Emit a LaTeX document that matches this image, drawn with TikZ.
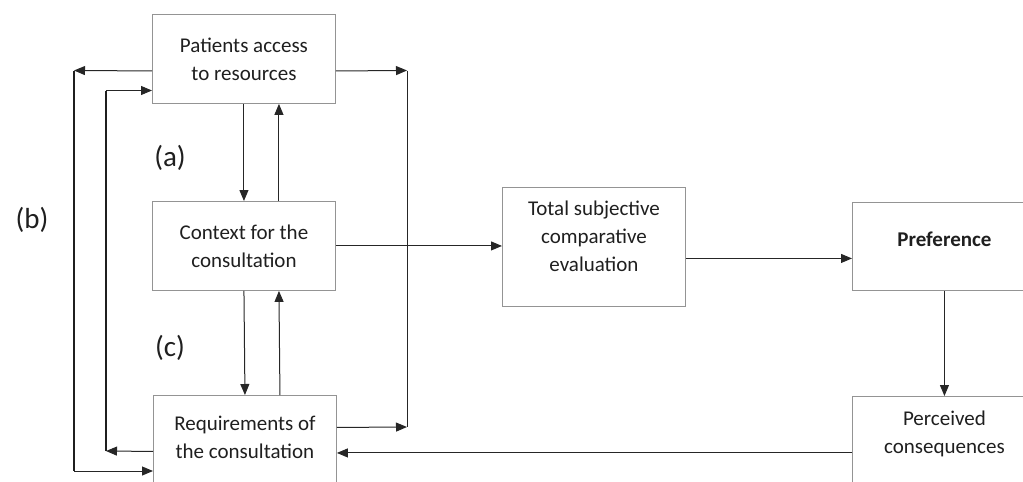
\documentclass[tikz,border=0pt]{standalone}
\usepackage{fontspec}
\setmainfont{Carlito}
\usetikzlibrary{arrows.meta}
\newcommand{\bw}{183pt}
\newcommand{\bh}{89pt}

\begin{document}
\begin{tikzpicture}[x=1pt, y=-1pt,
    box/.style={draw=black!42, line width=0.9pt, rectangle, anchor=north west, minimum width=\bw, minimum height=\bh, inner sep=0pt, align=center, text=black!88, font=\fontsize{21}{28}\selectfont},
    con/.style={draw=black!85, line width=1pt},
    arr/.style={con, -{Triangle[length=11pt, width=9pt]}},
    loop/.style={draw=black!88, line width=1.7pt},
    lab/.style={text=black!88, font=\fontsize{29}{32}\selectfont}]
    \useasboundingbox (0,0) rectangle (1023,482);

    % Left column
    \node[box] (pat) at (152,14) {Patients access\\to resources};
    \node[box] (ctx) at (152,201) {Context for the\\consultation};
    \node[box, text depth=6pt] (req) at (153,395) {Requirements of\\the consultation};

    % Right part
    \node[box, minimum height=119pt, text depth=21pt] (tot) at (502,187) {Total subjective\\comparative\\evaluation};
    \node[box, minimum width=184pt, minimum height=88pt, text depth=14pt] (pref) at (852,202) {\textbf{Preference}};
    \node[box, minimum width=184pt, text depth=17pt] (per) at (852,396) {Perceived\\consequences};

    % Labels
    \node[lab] (la) at (170,158) {(a)};
    \node[lab] (lb) at (32,220) {(b)};
    \node[lab] (lc) at (170,348) {(c)};

    % Loop corners
    \coordinate (rtop) at (407,70.5);
    \coordinate (rbot) at (407,427);
    \coordinate (otop) at (74,70.5);
    \coordinate (obot) at (74,471);
    \coordinate (itop) at (106,90.5);
    \coordinate (ibot) at (106,451);

    % (a) and (c)
    \draw[arr] (pat.south) -- (ctx.north);
    \draw[arr] ([xshift=35pt]ctx.north) -- ([xshift=35pt]pat.south);
    \draw[arr] (ctx.south) -- (req.north);
    \draw[arr] ([xshift=35pt]req.north) -- ([xshift=35pt]ctx.south);

    % Right loop
    \draw[arr] ([yshift=-12pt]pat.east) -- (rtop);
    \draw[arr] ([yshift=12.5pt]req.east) -- (rbot);
    \draw[con] (rtop) -- (rbot);

    % (b)
    \draw[arr] ([yshift=-12pt]pat.west) -- (otop);
    \draw[loop] (otop) -- (obot);
    \draw[arr] (obot) -- (obot -| req.west);
    \draw[arr] ([yshift=-11.5pt]req.west) -- (ibot);
    \draw[loop] (ibot) -- (itop);
    \draw[arr] (itop) -- (itop -| pat.west);

    % Main chain
    \draw[arr] (ctx.east) -- (ctx.east -| tot.west);
    \draw[arr] ([yshift=-11.5pt]tot.east) -- ([yshift=-11.5pt]tot.east -| pref.west);
    \draw[arr] (pref.south) -- (per.north);
    \draw[arr] ([yshift=-12pt]per.west) -- ([yshift=-12pt]per.west -| req.east);

\end{tikzpicture}
\end{document}
